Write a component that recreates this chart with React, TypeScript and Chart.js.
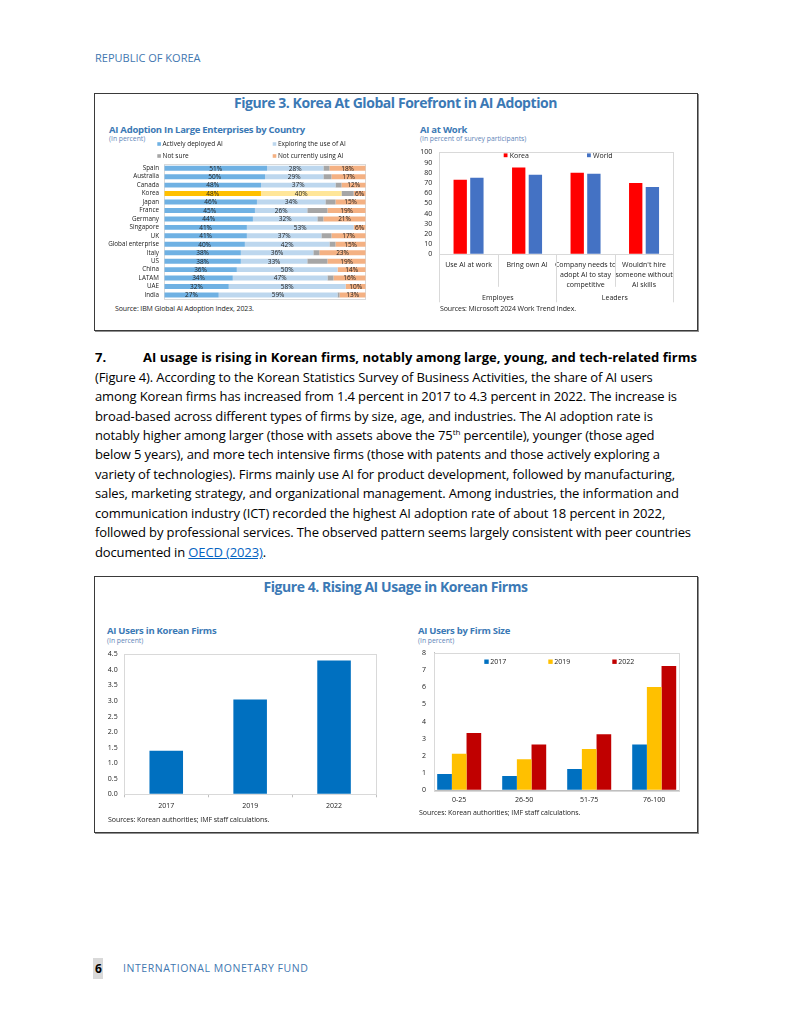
import React, { useEffect, useLayoutEffect, useRef } from "react";
import { Chart, registerables } from "chart.js";

Chart.register(...registerables);

const FONT = "'Open Sans', 'Noto Sans', 'DejaVu Sans', sans-serif";
Chart.defaults.font.family = FONT;
Chart.defaults.color = "#222";

const TITLE_BLUE = "#3b79b5";
const SUB_BLUE = "#5f86b8";

// ---------- Figure 3, left: AI adoption by country ----------
const countries = [
  "Spain", "Australia", "Canada", "Korea", "Japan", "France", "Germany", "Singapore",
  "UK", "Global enterprise", "Italy", "US", "China", "LATAM", "UAE", "India",
];
const activelyDeployed = [51, 50, 48, 48, 46, 45, 44, 41, 41, 40, 38, 38, 36, 34, 32, 27];
const exploringUse = [28, 29, 37, 40, 34, 26, 32, 53, 37, 42, 36, 33, 50, 47, 58, 59];
const notSure = [3, 4, 3, 6, 5, 10, 3, 0, 5, 3, 3, 10, 0, 3, 0, 1];
const notCurrentlyUsing = [18, 17, 12, 6, 15, 19, 21, 6, 17, 15, 23, 19, 14, 16, 10, 13];

// ---------- Figure 3, right: AI at work ----------
const workCategories = [
  ["Use AI at work"],
  ["Bring own AI"],
  ["Company needs to", "adopt AI to stay", "competitive"],
  ["Wouldn't hire", "someone without", "AI skills"],
];
const workGroups = ["Employes", "Leaders"];
const koreaWork = [73, 85, 80, 70];
const worldWork = [75, 78, 79, 66];

// ---------- Figure 4, left: AI users in Korean firms ----------
const years = ["2017", "2019", "2022"];
const aiUsersShare = [1.4, 3.05, 4.3];

// ---------- Figure 4, right: AI users by firm size ----------
const firmSizes = ["0-25", "26-50", "51-75", "76-100"];
const size2017 = [0.95, 0.83, 1.24, 2.67];
const size2019 = [2.13, 1.8, 2.4, 6.0];
const size2022 = [3.33, 2.67, 3.26, 7.23];
// axis bounds of the firm-size panel (category index units)
const firmAxisMin = -0.383;
const firmAxisMax = 3.386;

// ---------- plugins ----------
const framePlugin = {
  id: "frame",
  beforeDatasetsDraw(chart: any, _a: any, opts: any) {
    if (!opts || !opts.color) return;
    const { ctx, chartArea: a } = chart;
    ctx.save();
    ctx.strokeStyle = opts.color;
    ctx.lineWidth = 1;
    ctx.strokeRect(
      Math.round(a.left) + 0.5,
      Math.round(a.top) + 0.5,
      Math.round(a.right - a.left),
      Math.round(a.bottom - a.top)
    );
    ctx.restore();
  },
};

const boxLegend = {
  id: "boxLegend",
  afterDraw(chart: any, _a: any, opts: any) {
    const items = (opts && opts.items) || [];
    const { ctx } = chart;
    ctx.save();
    ctx.font = `${opts.size || 7}px ${FONT}`;
    ctx.textBaseline = "middle";
    ctx.textAlign = "left";
    const box = opts.box || 4;
    items.forEach((it: any) => {
      const ds = chart.data.datasets[it.dataset];
      const bg = Array.isArray(ds.backgroundColor) ? ds.backgroundColor[0] : ds.backgroundColor;
      ctx.fillStyle = bg;
      ctx.fillRect(it.x, it.y - box / 2, box, box);
      ctx.fillStyle = opts.textColor || "#222";
      ctx.fillText(ds.label, it.x + box + (opts.gap || 2), it.y + 0.5);
    });
    ctx.restore();
  },
};

const barValueLabels = {
  id: "barValueLabels",
  afterDatasetsDraw(chart: any, _a: any, opts: any) {
    if (!opts || !opts.enabled) return;
    const { ctx } = chart;
    ctx.save();
    ctx.font = `${opts.size || 7}px ${FONT}`;
    ctx.textAlign = "center";
    ctx.textBaseline = "middle";
    ctx.fillStyle = opts.color || "#222";
    chart.data.datasets.forEach((ds: any, di: number) => {
      if ((opts.skip || []).includes(di)) return;
      const meta = chart.getDatasetMeta(di);
      meta.data.forEach((el: any, i: number) => {
        const v = ds.data[i];
        if (!v) return;
        const p = el.getProps(["x", "y", "base"], true);
        ctx.fillText(`${v}%`, (p.x + p.base) / 2, p.y + 0.5);
      });
    });
    ctx.restore();
  },
};

const groupAxis = {
  id: "groupAxis",
  afterDraw(chart: any, _a: any, opts: any) {
    if (!opts || !opts.groups) return;
    const { ctx, chartArea: a } = chart;
    const xs = chart.scales.x;
    const n = chart.data.labels.length;
    const bounds: number[] = [a.left];
    for (let i = 1; i < n; i++) {
      bounds.push((xs.getPixelForValue(i - 1) + xs.getPixelForValue(i)) / 2);
    }
    bounds.push(a.right);
    const groupEdges = new Set<number>();
    opts.groups.forEach((g: any) => {
      groupEdges.add(g.from);
      groupEdges.add(g.to + 1);
    });
    ctx.save();
    ctx.strokeStyle = opts.lineColor || "#d9d9d9";
    ctx.lineWidth = 1;
    bounds.forEach((bx, i) => {
      const len = groupEdges.has(i) ? opts.longLen : opts.shortLen;
      const x = Math.round(bx) + 0.5;
      ctx.beginPath();
      ctx.moveTo(x, a.bottom);
      ctx.lineTo(x, a.bottom + len);
      ctx.stroke();
    });
    ctx.font = `${opts.size || 7}px ${FONT}`;
    ctx.fillStyle = "#222";
    ctx.textAlign = "center";
    ctx.textBaseline = "middle";
    opts.groups.forEach((g: any) => {
      const cx = (bounds[g.from] + bounds[g.to + 1]) / 2;
      ctx.fillText(g.label, cx, a.bottom + opts.labelOffset);
    });
    ctx.restore();
  },
};

// hidden tick marks used as spacing between value labels and the axis line
const spacerGrid = (len: number) => ({
  display: true,
  drawOnChartArea: false,
  drawTicks: true,
  tickLength: len,
  color: "rgba(0,0,0,0)",
});

// ---------- configs ----------
function fig3aConfig(): any {
  const bar = { barPercentage: 0.58, categoryPercentage: 1 };
  return {
    type: "bar",
    data: {
      labels: countries,
      datasets: [
        {
          label: "Actively deployed AI",
          data: activelyDeployed,
          backgroundColor: countries.map((c) => (c === "Korea" ? "#FFC000" : "#6FB1E3")),
          ...bar,
        },
        {
          label: "Exploring the use of AI",
          data: exploringUse,
          backgroundColor: countries.map((c) => (c === "Korea" ? "#FFE699" : "#BDD7EE")),
          ...bar,
        },
        { label: "Not sure", data: notSure, backgroundColor: "#A6A6A6", ...bar },
        { label: "Not currently using AI", data: notCurrentlyUsing, backgroundColor: "#F4B183", ...bar },
      ],
    },
    options: {
      indexAxis: "y",
      responsive: false,
      animation: false,
      devicePixelRatio: 1,
      layout: { padding: { top: 28, right: 6.3, bottom: 3.8, left: 0 } },
      scales: {
        x: { stacked: true, min: 0, max: 100, display: false },
        y: {
          stacked: true,
          grid: spacerGrid(5.3),
          border: { display: false },
          ticks: { font: { size: 6.3 }, color: "#222", padding: 0, autoSkip: false },
          afterFit: (s: any) => {
            s.width = 64.3;
          },
        },
      },
      plugins: {
        legend: { display: false },
        tooltip: { enabled: false },
        frame: { color: "#d9d9d9" },
        barValueLabels: { enabled: true, skip: [2], size: 6.5, color: "#222" },
        boxLegend: {
          size: 6.5,
          box: 3.6,
          gap: 1.6,
          items: [
            { dataset: 0, x: 57.3, y: 8 },
            { dataset: 1, x: 172.7, y: 8 },
            { dataset: 2, x: 57.3, y: 20 },
            { dataset: 3, x: 172.7, y: 20 },
          ],
        },
      },
    },
    plugins: [framePlugin, barValueLabels, boxLegend],
  };
}

function fig3bConfig(): any {
  const bar = { barPercentage: 0.8, categoryPercentage: 0.57 };
  return {
    type: "bar",
    data: {
      labels: workCategories,
      datasets: [
        { label: "Korea", data: koreaWork, backgroundColor: "#FF0000", ...bar },
        { label: "World", data: worldWork, backgroundColor: "#4472C4", ...bar },
      ],
    },
    options: {
      responsive: false,
      animation: false,
      devicePixelRatio: 1,
      layout: { padding: { top: 6.3, right: 6.7, bottom: 5.7, left: 0 } },
      scales: {
        x: {
          grid: { display: false, drawTicks: false },
          border: { display: true, color: "#bfbfbf" },
          ticks: { font: { size: 7, lineHeight: 1.4 }, color: "#222", padding: 5.8, maxRotation: 0, autoSkip: false },
          afterFit: (s: any) => {
            s.height = 48;
          },
        },
        y: {
          min: 0,
          max: 100,
          ticks: { stepSize: 10, font: { size: 7 }, color: "#222", padding: 0, autoSkip: false },
          grid: spacerGrid(7),
          border: { display: true, color: "#bfbfbf" },
          afterFit: (s: any) => {
            s.width = 34.3;
          },
        },
      },
      plugins: {
        legend: { display: false },
        tooltip: { enabled: false },
        frame: { color: "#d9d9d9" },
        groupAxis: {
          groups: [
            { label: workGroups[0], from: 0, to: 1 },
            { label: workGroups[1], from: 2, to: 3 },
          ],
          shortLen: 32.5,
          longLen: 48,
          labelOffset: 43.4,
          size: 7,
          lineColor: "#d9d9d9",
        },
        boxLegend: {
          size: 7,
          box: 3.8,
          gap: 2.2,
          items: [
            { dataset: 0, x: 98.7, y: 9.3 },
            { dataset: 1, x: 182, y: 9.3 },
          ],
        },
      },
    },
    plugins: [framePlugin, groupAxis, boxLegend],
  };
}

function fig4aConfig(): any {
  return {
    type: "bar",
    data: {
      labels: years,
      datasets: [
        {
          label: "AI users",
          data: aiUsersShare,
          backgroundColor: "#0070C0",
          barPercentage: 0.5,
          categoryPercentage: 0.8,
        },
      ],
    },
    options: {
      responsive: false,
      animation: false,
      devicePixelRatio: 1,
      layout: { padding: { top: 6.3, right: 9, bottom: 3.7, left: 0 } },
      scales: {
        x: {
          grid: { display: true, offset: true, drawOnChartArea: false, drawTicks: true, tickLength: 3, color: "#bfbfbf" },
          border: { display: true, color: "#bfbfbf" },
          ticks: { font: { size: 7 }, color: "#222", padding: 4.2 },
          afterFit: (s: any) => {
            s.height = 18;
          },
        },
        y: {
          min: 0,
          max: 4.5,
          ticks: {
            stepSize: 0.5,
            font: { size: 7 },
            color: "#222",
            padding: 0,
            autoSkip: false,
            callback: (v: any) => Number(v).toFixed(1),
          },
          grid: spacerGrid(6.6),
          border: { display: true, color: "#bfbfbf" },
          afterFit: (s: any) => {
            s.width = 29.3;
          },
        },
      },
      plugins: {
        legend: { display: false },
        tooltip: { enabled: false },
        frame: { color: "#d9d9d9" },
      },
    },
    plugins: [framePlugin],
  };
}

function fig4bConfig(): any {
  const bar = { barPercentage: 1, categoryPercentage: 0.677 };
  const pts = (arr: number[]) => arr.map((v, i) => ({ x: i, y: v }));
  return {
    type: "bar",
    data: {
      datasets: [
        { label: "2017", data: pts(size2017), backgroundColor: "#0070C0", ...bar },
        { label: "2019", data: pts(size2019), backgroundColor: "#FFC000", ...bar },
        { label: "2022", data: pts(size2022), backgroundColor: "#C00000", ...bar },
      ],
    },
    options: {
      responsive: false,
      animation: false,
      devicePixelRatio: 1,
      layout: { padding: { top: 6.7, right: 10.7, bottom: 5.7, left: 0 } },
      scales: {
        x: {
          type: "linear",
          min: firmAxisMin,
          max: firmAxisMax,
          offset: false,
          grid: { display: false, drawTicks: false },
          border: { display: true, color: "#bfbfbf" },
          ticks: {
            stepSize: 1,
            includeBounds: false,
            autoSkip: false,
            maxRotation: 0,
            font: { size: 7 },
            color: "#222",
            padding: 5.5,
            callback: (v: any) => (Number.isInteger(v) && firmSizes[v] !== undefined ? firmSizes[v] : ""),
          },
          afterFit: (s: any) => {
            s.height = 20;
          },
        },
        y: {
          min: 0,
          max: 8,
          ticks: { stepSize: 1, font: { size: 7 }, color: "#222", padding: 0, autoSkip: false },
          grid: spacerGrid(8.3),
          border: { display: true, color: "#bfbfbf" },
          afterFit: (s: any) => {
            s.width = 29.3;
          },
        },
      },
      plugins: {
        legend: { display: false },
        tooltip: { enabled: false },
        frame: { color: "#d9d9d9" },
        boxLegend: {
          size: 7,
          box: 4.4,
          gap: 1.6,
          items: [
            { dataset: 0, x: 79.3, y: 15.7 },
            { dataset: 1, x: 143.3, y: 15.7 },
            { dataset: 2, x: 207.3, y: 15.7 },
          ],
        },
      },
    },
    plugins: [framePlugin, boxLegend],
  };
}

// ---------- components ----------
function ChartCanvas(props: { left: number; top: number; width: number; height: number; make: () => any }) {
  const ref = useRef<HTMLCanvasElement>(null);
  useEffect(() => {
    const chart = new Chart(ref.current as HTMLCanvasElement, props.make());
    return () => chart.destroy();
  }, []);
  return (
    <canvas
      ref={ref}
      width={props.width}
      height={props.height}
      style={{ position: "absolute", left: props.left, top: props.top, width: props.width, height: props.height }}
    />
  );
}

function Txt(props: {
  x: number;
  y: number;
  size: number;
  children: any;
  weight?: number | string;
  color?: string;
  align?: "left" | "center" | "right";
  ls?: number;
  fitTo?: number;
}) {
  const { x, y, size, weight = 400, color = "#000", align = "left", ls = 0, fitTo } = props;
  const ref = useRef<HTMLDivElement>(null);
  useLayoutEffect(() => {
    if (!fitTo || !ref.current) return;
    const el = ref.current;
    el.style.letterSpacing = "0px";
    const w = el.getBoundingClientRect().width;
    const n = (el.textContent || "").length;
    const target = fitTo - x;
    el.style.letterSpacing = `${(target - w) / n}px`;
  }, []);
  const transform = align === "center" ? "translateX(-50%)" : align === "right" ? "translateX(-100%)" : undefined;
  return (
    <div
      ref={ref}
      style={{
        position: "absolute",
        left: x,
        top: y - size * 0.68,
        fontSize: size,
        lineHeight: `${size * 1.3}px`,
        fontWeight: weight as any,
        color,
        whiteSpace: "nowrap",
        letterSpacing: ls,
        fontFamily: FONT,
        transform,
      }}
    >
      {props.children}
    </div>
  );
}

const bodyLines: any[] = [
  "(Figure 4). According to the Korean Statistics Survey of Business Activities, the share of AI users",
  "among Korean firms has increased from 1.4 percent in 2017 to 4.3 percent in 2022. The increase is",
  "broad-based across different types of firms by size, age, and industries. The AI adoption rate is",
  null,
  "below 5 years), and more tech intensive firms (those with patents and those actively exploring a",
  "variety of technologies). Firms mainly use AI for product development, followed by manufacturing,",
  "sales, marketing strategy, and organizational management. Among industries, the information and",
  "communication industry (ICT) recorded the highest AI adoption rate of about 18 percent in 2022,",
  "followed by professional services. The observed pattern seems largely consistent with peer countries",
];

export default function App() {
  const BODY = 13;
  const BODY_LS = -0.13;
  const lineY = (k: number) => 358 + 19.45 * k;
  return (
    <div
      style={{
        position: "absolute",
        left: 0,
        top: 0,
        width: 791,
        height: 1024,
        background: "#fff",
        overflow: "hidden",
        fontFamily: FONT,
      }}
    >
      <Txt x={95} y={58} size={11} color="#3f77b0" ls={0}>
        REPUBLIC OF KOREA
      </Txt>

      {/* Figure 3 frame */}
      <div
        style={{
          position: "absolute",
          left: 94,
          top: 93,
          width: 602,
          height: 236,
          border: "1px solid #3a3a3a",
          boxShadow: "1px 1px 0 #8f8f8f",
        }}
      />
      <Txt x={395.5} y={104} size={14} weight={700} color={TITLE_BLUE} align="center" ls={-0.44}>
        Figure 3. Korea At Global Forefront in AI Adoption
      </Txt>

      <Txt x={109} y={130} size={9.5} weight={700} color={TITLE_BLUE} ls={-0.27}>
        AI Adoption In Large Enterprises by Country
      </Txt>
      <Txt x={109} y={140} size={6.8} color={SUB_BLUE}>
        (In percent)
      </Txt>
      <ChartCanvas left={100} top={136} width={272} height={167} make={fig3aConfig} />
      <Txt x={115} y={309} size={7} color="#222" ls={-0.1}>
        Source: IBM Global AI Adoption Index, 2023.
      </Txt>

      <Txt x={420} y={130} size={9.5} weight={700} color={TITLE_BLUE} ls={-0.27}>
        AI at Work
      </Txt>
      <Txt x={420} y={140} size={6.8} color={SUB_BLUE}>
        (In percent of survey participants)
      </Txt>
      <ChartCanvas left={405} top={146} width={275} height={162} make={fig3bConfig} />
      <Txt x={440} y={309} size={7} color="#222" ls={-0.1}>
        Sources: Microsoft 2024 Work Trend Index.
      </Txt>

      {/* Paragraph */}
      <Txt x={95} y={lineY(0)} size={BODY} weight={700}>
        7.
      </Txt>
      <Txt x={143} y={lineY(0)} size={BODY} weight={700} fitTo={697}>
        AI usage is rising in Korean firms, notably among large, young, and tech-related firms
      </Txt>
      {bodyLines.map((t, i) =>
        t ? (
          <Txt key={i} x={95} y={lineY(i + 1)} size={BODY} ls={BODY_LS}>
            {t}
          </Txt>
        ) : (
          <Txt key={i} x={95} y={lineY(i + 1)} size={BODY} ls={BODY_LS}>
            notably higher among larger (those with assets above the 75
            <sup style={{ fontSize: 8, lineHeight: 0 }}>th</sup> percentile), younger (those aged
          </Txt>
        )
      )}
      <Txt x={95} y={lineY(10)} size={BODY} ls={BODY_LS}>
        documented in <span style={{ color: "#0563C1", textDecoration: "underline" }}>OECD (2023)</span>.
      </Txt>

      {/* Figure 4 frame */}
      <div
        style={{
          position: "absolute",
          left: 94,
          top: 576,
          width: 602,
          height: 255,
          border: "1px solid #3a3a3a",
          boxShadow: "1px 1px 0 #8f8f8f",
        }}
      />
      <Txt x={395.5} y={588} size={14} weight={700} color={TITLE_BLUE} align="center" ls={-0.44}>
        Figure 4. Rising AI Usage in Korean Firms
      </Txt>

      <Txt x={107} y={631} size={9.5} weight={700} color={TITLE_BLUE} ls={-0.27}>
        AI Users in Korean Firms
      </Txt>
      <Txt x={107} y={642} size={6.8} color={SUB_BLUE}>
        (In percent)
      </Txt>
      <ChartCanvas left={95} top={648} width={290} height={168} make={fig4aConfig} />
      <Txt x={108} y={820} size={7} color="#222" ls={-0.05}>
        Sources: Korean authorities; IMF staff calculations.
      </Txt>

      <Txt x={418} y={631} size={9.5} weight={700} color={TITLE_BLUE} ls={-0.27}>
        AI Users by Firm Size
      </Txt>
      <Txt x={418} y={642} size={6.8} color={SUB_BLUE}>
        (In percent)
      </Txt>
      <ChartCanvas left={405} top={646} width={285} height={170} make={fig4bConfig} />
      <Txt x={419} y={813} size={7} color="#222" ls={-0.05}>
        Sources: Korean authorities; IMF staff calculations.
      </Txt>

      {/* Footer */}
      <div style={{ position: "absolute", left: 93, top: 958, width: 10, height: 21, background: "#d9d9d9" }} />
      <Txt x={95} y={969} size={12} weight={700}>
        6
      </Txt>
      <Txt x={123} y={969} size={10.5} color="#3f77b0" ls={0.55}>
        INTERNATIONAL MONETARY FUND
      </Txt>
    </div>
  );
}
